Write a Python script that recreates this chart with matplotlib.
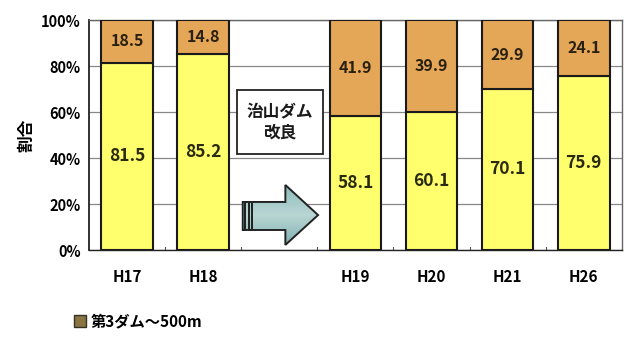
import numpy as np
import matplotlib
matplotlib.use('Agg')
from matplotlib import pyplot as plt
from matplotlib.patches import Polygon, Rectangle, Patch

plt.rcParams['font.family'] = ['Noto Sans CJK JP', 'DejaVu Sans']

categories = ['H17', 'H18', 'H19', 'H20', 'H21', 'H26']
lower_share = [81.5, 85.2, 58.1, 60.1, 70.1, 75.9]   # 下段 (黄)
upper_share = [18.5, 14.8, 41.9, 39.9, 29.9, 24.1]   # 第3ダム～500m (橙)
yticks = [0, 20, 40, 60, 80, 100]
legend_label = '第3ダム～500m'
note = '治山ダム\n改良'

yellow = '#ffff6e'
orange = '#e4a757'

# leave one empty slot between H18 and H19 for the arrow
gap = 2
xs = np.array([i if i < gap else i + 1 for i in range(len(categories))])

fig = plt.figure(figsize=(6.29, 3.4), dpi=100)
ax = fig.add_axes([0.1415, 0.2647, 0.847, 0.676])

w = 0.68
ax.bar(xs, lower_share, width=w, color=yellow, edgecolor='#1a1a1a', linewidth=1.5, zorder=3)
ax.bar(xs, upper_share, width=w, bottom=lower_share, color=orange,
       edgecolor='#1a1a1a', linewidth=1.5, zorder=3)

for x, lo, up in zip(xs, lower_share, upper_share):
    ax.text(x, lo / 2, f'{lo:.1f}', ha='center', va='center', fontsize=12.5,
            fontweight='bold', color='#2a2a10', zorder=4)
    ax.text(x, lo + up / 2, f'{up:.1f}', ha='center', va='center', fontsize=11.5,
            fontweight='bold', color='#2a2010', zorder=4)

ax.set_xlim(-0.5, 6.5)
ax.set_ylim(0, 100)
ax.set_yticks(yticks)
ax.set_yticklabels([f'{v}%' for v in yticks], fontsize=10.5, fontweight='bold')
ax.set_xticks(xs)
ax.set_xticklabels(categories, fontsize=11, fontweight='bold')
ax.tick_params(axis='x', length=0, pad=14)
ax.tick_params(axis='y', length=0, pad=6)
for b in np.arange(0.5, 6.6, 1.0):
    ax.plot([b, b], [0, 1.5], color='#555555', lw=0.8, zorder=2)
ax.grid(axis='y', color='#888888', lw=0.9, zorder=0)
for s in ax.spines.values():
    s.set_color('#666666')
    s.set_linewidth(1.0)
ax.spines['left'].set_color('#222222')
ax.spines['bottom'].set_color('#222222')
ax.spines['left'].set_linewidth(1.3)
ax.set_ylabel('割合', fontsize=12, fontweight='bold', labelpad=4)

# note box above the arrow
bx0, bx1, by0, by1 = gap - 0.55, gap + 0.57, 41.7, 69.6
ax.add_patch(Rectangle((bx0, by0), bx1 - bx0, by1 - by0, facecolor='white',
                       edgecolor='#222222', lw=1.3, zorder=4))
ax.text(gap + 0.01, (by0 + by1) / 2, note, ha='center', va='center', fontsize=12,
        fontweight='bold', linespacing=1.2, color='#1a1a1a', zorder=5)

# arrow with a soft gradient fill
ax0, ax1 = gap - 0.48, gap + 0.51
hx = gap + 0.08
pts = [(ax0, 20.9), (hx, 20.9), (hx, 28.3), (ax1, 15.2), (hx, 2.2), (hx, 8.7), (ax0, 8.7)]
arrow = Polygon(pts, closed=True, facecolor='none', edgecolor='#222222', lw=1.4, zorder=6)
ax.add_patch(arrow)
grad = np.linspace(0, 1, 64).reshape(-1, 1)
grad = np.hstack([grad, grad])
cmap = matplotlib.colors.LinearSegmentedColormap.from_list('arr', ['#7fb0b2', '#b9d6d4', '#8cbcbd'])
im = ax.imshow(grad, extent=[ax0, ax1, 2.2, 28.3], aspect='auto', cmap=cmap,
               origin='lower', zorder=5, interpolation='bilinear')
im.set_clip_path(arrow)
for sx, sw in [(ax0 + 0.01, 0.035), (ax0 + 0.065, 0.025), (ax0 + 0.11, 0.02)]:
    ax.add_patch(Rectangle((sx, 8.7), sw, 12.2, facecolor='#222222', edgecolor='none', zorder=7))
ax.set_xlim(-0.5, 6.5)
ax.set_ylim(0, 100)

fig.legend(handles=[Patch(facecolor='#8a7444', edgecolor='#333322', lw=1.0)],
           labels=[legend_label], loc='center left', bbox_to_anchor=(0.095, 0.055),
           frameon=False, handlelength=0.8, handleheight=0.8, handletextpad=0.3,
           prop={'size': 11, 'weight': 'bold'})

fig.savefig('out.png', dpi=100)
